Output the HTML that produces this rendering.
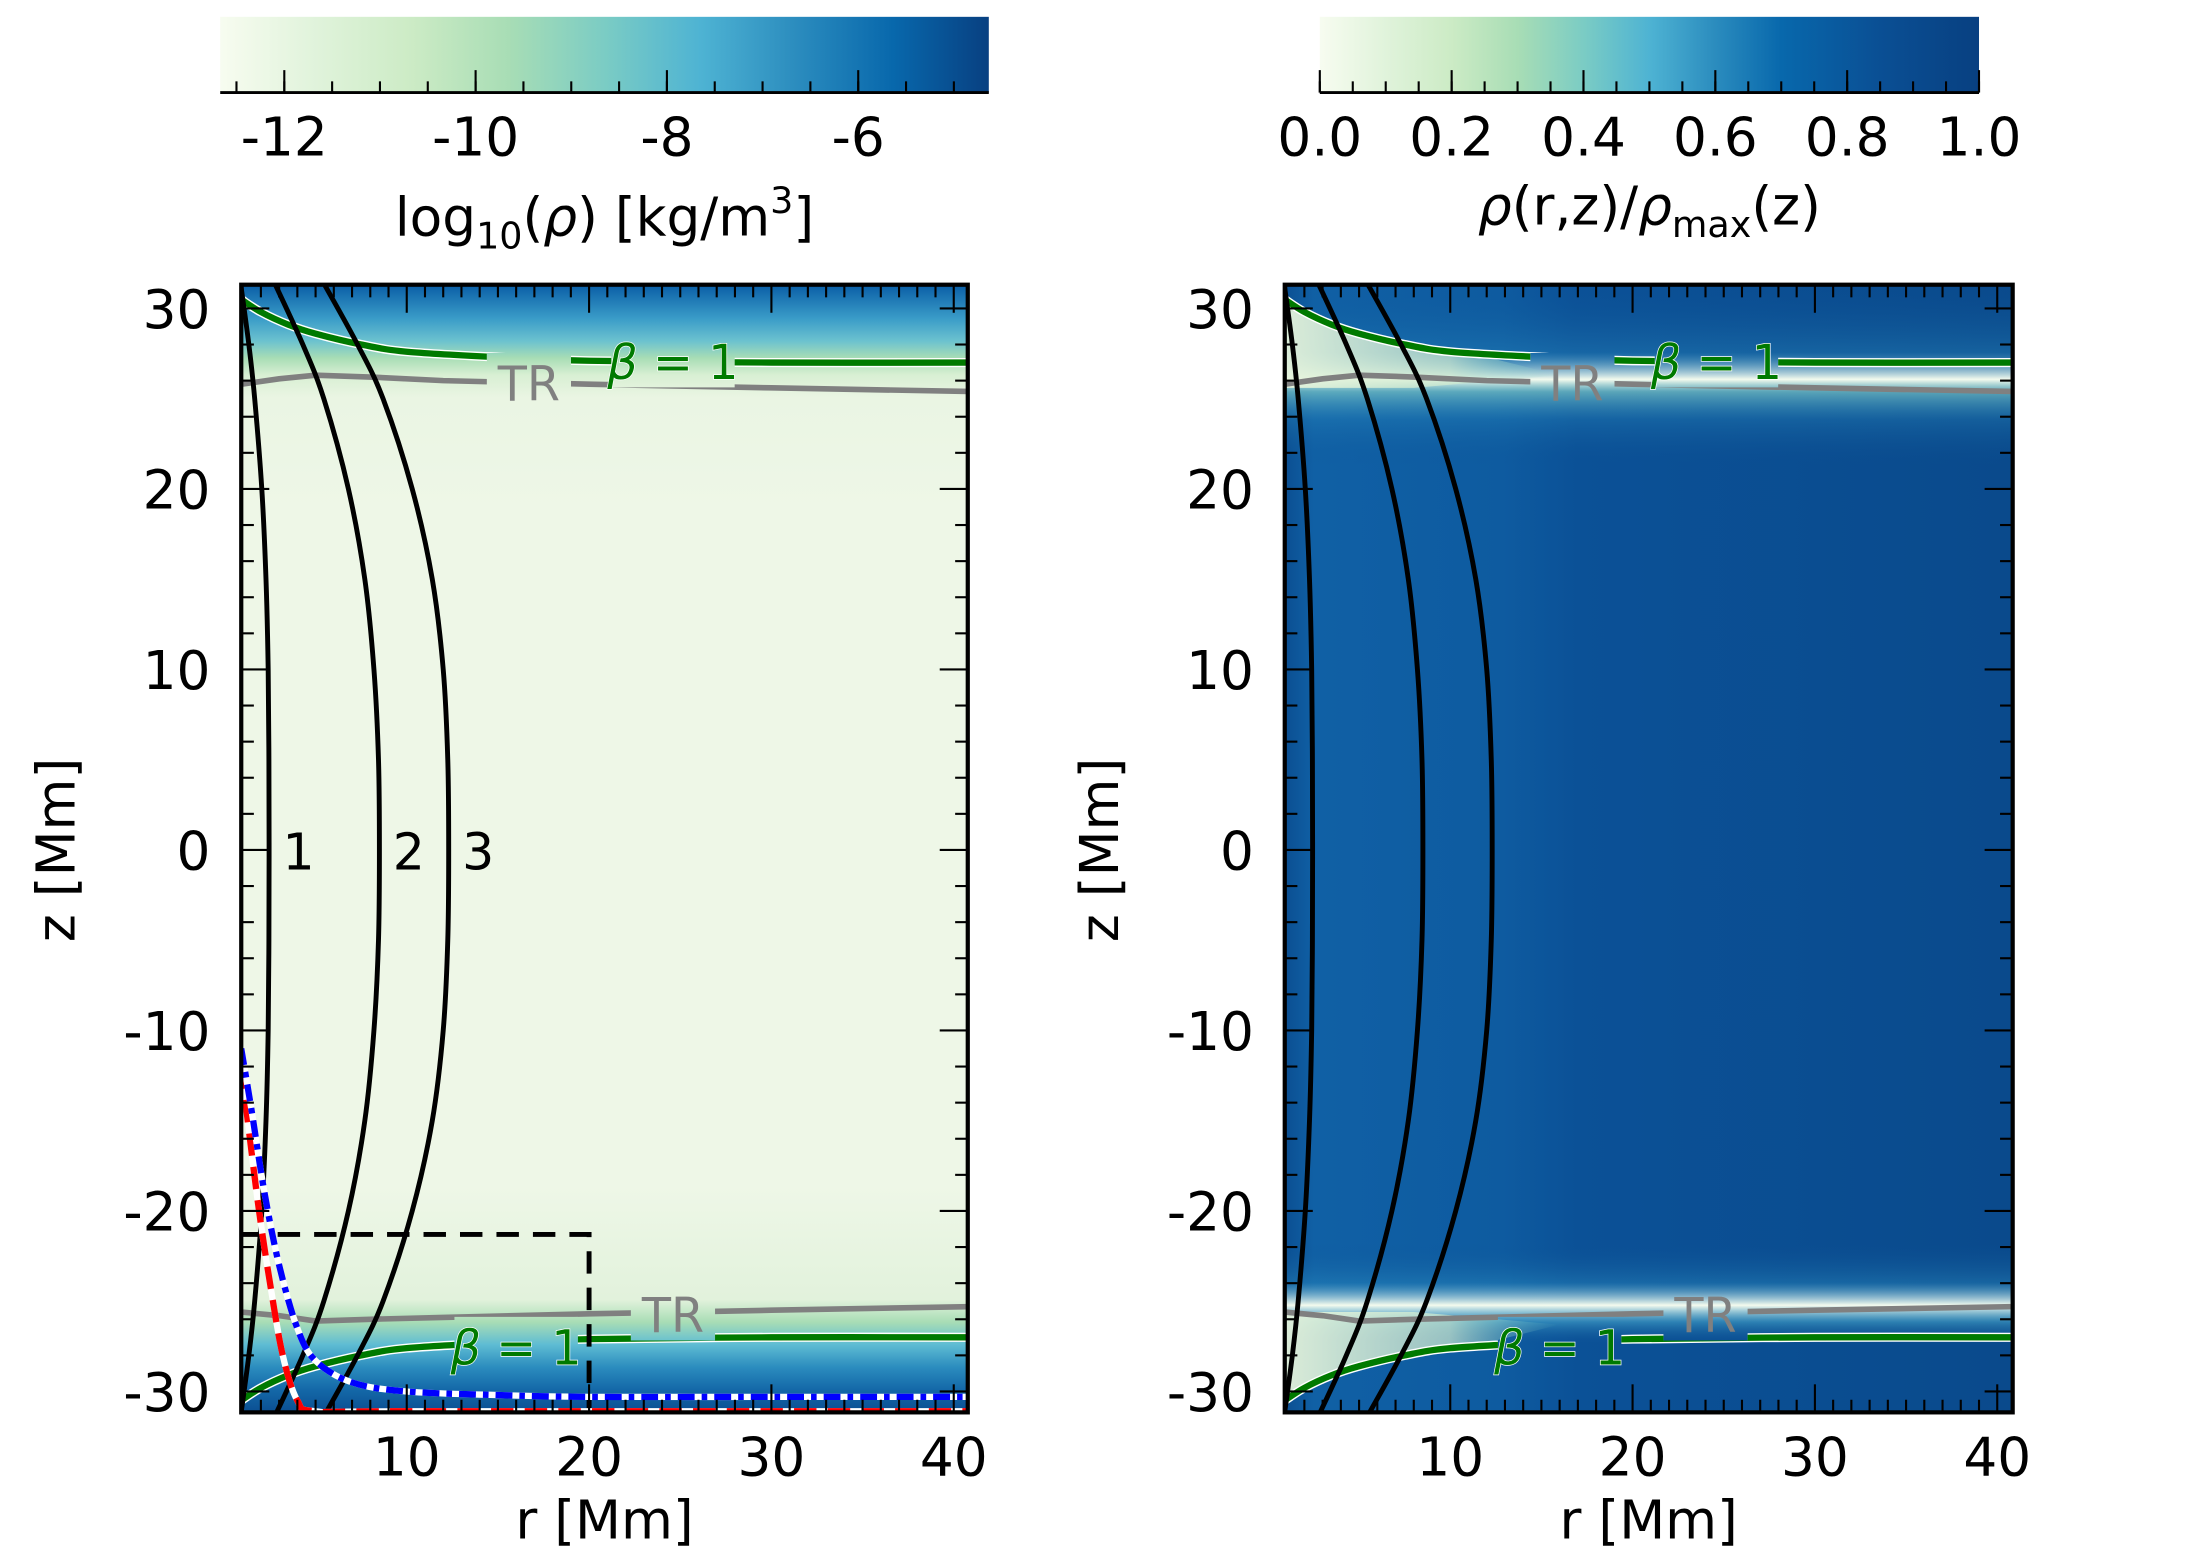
<!DOCTYPE html>
<html><head><meta charset="utf-8"><style>
html,body{margin:0;padding:0;background:#fff}
svg{display:block}
text{font-family:"DejaVu Sans","Liberation Sans",sans-serif;fill:#000}
</style></head><body>
<svg id="fig" width="2188" height="1563" viewBox="0 0 1560 1114.4" xmlns="http://www.w3.org/2000/svg">
<defs>
<linearGradient id="gnbu" x1="0" x2="1" y1="0" y2="0">
<stop offset="0" stop-color="#f7fcf0"/><stop offset="0.125" stop-color="#e0f3db"/><stop offset="0.25" stop-color="#ccebc5"/><stop offset="0.375" stop-color="#a8ddb5"/><stop offset="0.5" stop-color="#7bccc4"/><stop offset="0.625" stop-color="#4eb3d3"/><stop offset="0.75" stop-color="#2b8cbe"/><stop offset="0.875" stop-color="#0868ac"/><stop offset="1" stop-color="#084081"/>
</linearGradient>
<linearGradient id="gnbu2" x1="0" x2="1" y1="0" y2="0">
<stop offset="0" stop-color="#f7fcf0"/><stop offset="0.1" stop-color="#e0f3db"/><stop offset="0.2" stop-color="#ccebc5"/><stop offset="0.3" stop-color="#a8ddb5"/><stop offset="0.4" stop-color="#7bccc4"/><stop offset="0.5" stop-color="#4eb3d3"/><stop offset="0.6" stop-color="#2b8cbe"/><stop offset="0.7" stop-color="#0868ac"/><stop offset="0.85" stop-color="#0a4f94"/><stop offset="1" stop-color="#084081"/>
</linearGradient>
<linearGradient id="leftV" x1="0" x2="0" y1="0" y2="1">
<stop offset="0" stop-color="#0a5ea6"/><stop offset="0.03" stop-color="#3a9cc8"/><stop offset="0.05" stop-color="#6cc2cf"/><stop offset="0.065" stop-color="#a8ddb5"/><stop offset="0.08" stop-color="#d8efd3"/><stop offset="0.1" stop-color="#eaf5e3"/><stop offset="0.2" stop-color="#eef7e7"/>
<stop offset="0.8" stop-color="#eef7e7"/><stop offset="0.9" stop-color="#e2f2dc"/><stop offset="0.92" stop-color="#a8ddb5"/><stop offset="0.94" stop-color="#5ebcd3"/><stop offset="0.96" stop-color="#2b8cbe"/><stop offset="0.98" stop-color="#1468a8"/><stop offset="1" stop-color="#0b4f92"/>
</linearGradient>
<linearGradient id="rightH" x1="0" x2="1" y1="0" y2="0">
<stop offset="0" stop-color="#0b4f92"/><stop offset="0.04" stop-color="#1060a5"/><stop offset="0.3" stop-color="#0e5ba0"/><stop offset="0.4" stop-color="#0b5197"/><stop offset="1" stop-color="#0a4a8c"/>
</linearGradient>
<linearGradient id="rightV" x1="0" x2="0" y1="0" y2="1">
<stop offset="0" stop-color="#0a4f92" stop-opacity="0"/><stop offset="0.06" stop-color="#2b8cbe" stop-opacity="0.35"/><stop offset="0.084" stop-color="#f4fbee" stop-opacity="1"/><stop offset="0.095" stop-color="#7cc9c8" stop-opacity="0.7"/><stop offset="0.12" stop-color="#2b8cbe" stop-opacity="0.3"/><stop offset="0.16" stop-color="#0a4f92" stop-opacity="0"/>
<stop offset="0.85" stop-color="#0a4f92" stop-opacity="0"/><stop offset="0.885" stop-color="#2b8cbe" stop-opacity="0.4"/><stop offset="0.905" stop-color="#f4fbee" stop-opacity="1"/><stop offset="0.92" stop-color="#4eb3d3" stop-opacity="0.5"/><stop offset="0.94" stop-color="#0a4f92" stop-opacity="0"/><stop offset="1" stop-color="#0a4f92" stop-opacity="0"/>
</linearGradient>
<linearGradient id="wedgeH" x1="0" x2="1" y1="0" y2="0">
<stop offset="0" stop-color="#e6f4dc" stop-opacity="0.95"/><stop offset="0.6" stop-color="#d2ecd0" stop-opacity="0.7"/><stop offset="1" stop-color="#7bccc4" stop-opacity="0"/>
</linearGradient>
<clipPath id="clipL"><rect x="172" y="203" width="518" height="804"/></clipPath>
<clipPath id="clipR"><rect x="916" y="203" width="519" height="804"/></clipPath>
</defs>
<g id="root"></g>
</svg>
<script>
// ---- data ----
const cbLeftTicks = [-12, -10, -8, -6];
const cbRightTicks = [0.0, 0.2, 0.4, 0.6, 0.8, 1.0];
const rTicks = [10, 20, 30, 40];
const zTicks = [30, 20, 10, 0, -10, -20, -30];
const fieldZ = [31.3, 28, 25, 20, 15, 10, 5, 0, -5, -10, -15, -20, -25, -28, -31.3];
const field1R = [0.9, 1.34, 1.66, 2.05, 2.28, 2.4, 2.44, 2.45, 2.44, 2.4, 2.28, 2.05, 1.66, 1.34, 0.9];
const field2R = [2.8, 4.3, 5.45, 6.8, 7.7, 8.2, 8.45, 8.5, 8.45, 8.2, 7.7, 6.8, 5.45, 4.3, 2.8];
const field3R = [5.5, 7.3, 8.7, 10.3, 11.4, 12.0, 12.25, 12.3, 12.25, 12.0, 11.4, 10.3, 8.7, 7.3, 5.5];
const fieldLabels = ["1", "2", "3"];
const betaR = [0.92, 2, 3.5, 5, 7.5, 10, 15, 20, 30, 40.8];
const betaTopZ = [30.5, 29.8, 29.1, 28.6, 28.0, 27.6, 27.3, 27.1, 27.0, 27.0];
const betaBotZ = [-30.5, -29.8, -29.1, -28.6, -28.0, -27.6, -27.3, -27.1, -27.0, -27.0];
const trR = [0.92, 3, 5, 8, 12, 20, 30, 40.8];
const trTopZ = [25.8, 26.1, 26.3, 26.2, 26.0, 25.8, 25.6, 25.4];
const trBotZ = [-25.6, -25.8, -26.1, -26.0, -25.9, -25.7, -25.5, -25.3];
const blueR = [0.92, 1.5, 2.2, 3, 4, 5, 7, 10, 15, 20, 30, 40.8];
const blueZ = [-11, -14.5, -19, -23, -26.5, -28.3, -29.5, -30, -30.2, -30.3, -30.3, -30.3];
const redR = [0.92, 1.4, 1.9, 2.5, 3.2, 4, 5, 10, 40.8];
const redZ = [-12, -16, -20, -24, -28, -30.5, -31.1, -31.1, -31.1];
const boxR = [0.92, 20];
const boxZ = [-21.3, -31.3];

// ---- axes ----
const NS = "http://www.w3.org/2000/svg";
const root = document.getElementById("root");
const defs = document.querySelector("defs");
const zy = z => 606 - 12.87 * z;
const rxL = r => 160 + 13 * r;
const rxR = r => 904 + 13 * r;
const cbxL = v => 157 + (v + 12.67) * 68.2;
const cbxR = v => 941 + v * 470;
function el(tag, attrs, parent) {
  const e = document.createElementNS(NS, tag);
  for (const k in attrs) e.setAttribute(k, attrs[k]);
  (parent || root).appendChild(e);
  return e;
}
function txt(s, x, y, size, anchor, parent) {
  const t = el("text", {x: x, y: y, "font-size": size, "text-anchor": anchor || "middle"}, parent);
  t.textContent = s;
  return t;
}
function smoothPath(pts) {
  let d = "M" + pts[0][0] + "," + pts[0][1];
  for (let i = 0; i < pts.length - 1; i++) {
    const p0 = pts[i - 1] || pts[i], p1 = pts[i], p2 = pts[i + 1], p3 = pts[i + 2] || p2;
    const c1 = [p1[0] + (p2[0] - p0[0]) / 6, p1[1] + (p2[1] - p0[1]) / 6];
    const c2 = [p2[0] - (p3[0] - p1[0]) / 6, p2[1] - (p3[1] - p1[1]) / 6];
    d += " C" + c1[0] + "," + c1[1] + " " + c2[0] + "," + c2[1] + " " + p2[0] + "," + p2[1];
  }
  return d;
}

// ---- colorbars ----
function colorbar(x0, x1, grad, name, ticks, xf, minorStart, minorEnd, minorStep, fmt, lblName) {
  const g = el("g", {});
  
  
  el("rect", {x: x0, y: 12, width: x1 - x0, height: 54, fill: "url(#" + grad + ")"}, g);
  el("line", {x1: x0, x2: x1, y1: 66, y2: 66, stroke: "#000", "stroke-width": 2}, g);
  for (let v = minorStart; v <= minorEnd + 1e-9; v += minorStep) {
    const x = xf(v);
    if (x < x0 - 0.5 || x > x1 + 0.5) continue;
    el("line", {x1: x, x2: x, y1: 66, y2: 58, stroke: "#000", "stroke-width": 1.5}, g);
  }
  ticks.forEach(v => {
    const x = xf(v);
    el("line", {x1: x, x2: x, y1: 66, y2: 50, stroke: "#000", "stroke-width": 1.5}, g);
    const t = txt(fmt(v), x, 111, 38, "middle", g);
    
    
  });
}
colorbar(157, 705, "gnbu", "density-colorbar", cbLeftTicks, cbxL, -12.5, -4.5, 0.5, v => String(v), "colorbar-tick-label");
colorbar(941, 1411, "gnbu2", "ratio-colorbar", cbRightTicks, cbxR, 0, 1, 0.05, v => v.toFixed(1), "colorbar-tick-label");

const cl1 = el("text", {x: 431, y: 168, "font-size": 38, "text-anchor": "middle"});


cl1.innerHTML = 'log<tspan font-size="26" dy="9">10</tspan><tspan dy="-9">(</tspan><tspan font-style="italic">ρ</tspan>) [kg/m<tspan font-size="26" dy="-16">3</tspan><tspan dy="16">]</tspan>';
const cl2 = el("text", {x: 1176, y: 160, "font-size": 38, "text-anchor": "middle"});


cl2.innerHTML = '<tspan font-style="italic">ρ</tspan>(r,z)/<tspan font-style="italic">ρ</tspan><tspan font-size="26" dy="9">max</tspan><tspan dy="-9">(z)</tspan>';

// ---- panels ----
function panel(X0, X1, rx, name, clip, isLeft) {
  const g = el("g", {});
  
  
  const hm = el("g", {"clip-path": "url(#" + clip + ")"}, g);
  
  
  if (isLeft) {
    el("rect", {x: X0, y: 203, width: X1 - X0, height: 804, fill: "url(#leftV)"}, hm);
  } else {
    el("rect", {x: X0, y: 203, width: X1 - X0, height: 804, fill: "url(#rightH)"}, hm);
    el("rect", {x: X0, y: 203, width: X1 - X0, height: 804, fill: "url(#rightV)"}, hm);
    const wt = [[rx(0.92), zy(30.5)], [rx(5), zy(28.6)], [rx(12), zy(27.3)], [rx(16), zy(26.3)], [rx(8), zy(25.6)], [rx(0.92), zy(25.6)]];
    el("path", {d: "M" + wt.map(p => p.join(",")).join(" L") + "Z", fill: "url(#wedgeH)"}, hm);
    const wb = [[rx(0.92), zy(-30.5)], [rx(5), zy(-28.6)], [rx(12), zy(-27.3)], [rx(16), zy(-26.3)], [rx(8), zy(-25.6)], [rx(0.92), zy(-25.6)]];
    el("path", {d: "M" + wb.map(p => p.join(",")).join(" L") + "Z", fill: "url(#wedgeH)"}, hm);
  }
  const labs = [
    ["TR", rx(16.7), zy(25.9) + 13, "#808080", "tr-label-top", 0, 30],
    ["β = 1", rx(24.6), zy(27.1) + 13, "#007a00", "beta-label-top", 1, 44],
    ["TR", isLeft ? rx(24.6) : rx(24.0), zy(-25.7) + 13, "#808080", "tr-label-bottom", 0, 30],
    ["β = 1", rx(16.0), zy(-27.5) + 13, "#007a00", "beta-label-bottom", 1, 44]
  ];
  // clip with holes (evenodd) for label gaps
  const cid = name + "-gapclip";
  const cp = el("clipPath", {id: cid}, defs);
  let d = "M" + X0 + ",203 H" + X1 + " V1007 H" + X0 + " Z";
  labs.forEach(l => {
    const x0 = l[1] - l[6], x1 = l[1] + l[6], y0 = l[2] - 34, y1 = l[2] + 6;
    d += " M" + x0 + "," + y0 + " H" + x1 + " V" + y1 + " H" + x0 + " Z";
  });
  el("path", {d: d, "clip-rule": "evenodd"}, cp);
  const ov = el("g", {"clip-path": "url(#" + clip + ")"}, g);
  const ml = el("g", {"clip-path": "url(#" + cid + ")"}, g);
  [[trTopZ, "tr-line-top"], [trBotZ, "tr-line-bottom"]].forEach(([zs, nm]) => {
    const p = el("polyline", {points: trR.map((r, i) => rx(r) + "," + zy(zs[i])).join(" "), fill: "none", stroke: "#808080", "stroke-width": 4}, ml);
    
    
  });
  [[betaTopZ, "beta-line-top"], [betaBotZ, "beta-line-bottom"]].forEach(([zs, nm]) => {
    const pts = betaR.map((r, i) => [rx(r), zy(zs[i])]);
    el("path", {d: smoothPath(pts), fill: "none", stroke: "#fff", "stroke-width": 6.5}, ml);
    const p = el("path", {d: smoothPath(pts), fill: "none", stroke: "#007a00", "stroke-width": 4.5}, ml);
    
    
  });
  labs.forEach(([s, x, y, c, nm, isB]) => {
    const t = txt(s, x, y, 34, "middle", g);
    if (isB) {
      t.innerHTML = '<tspan font-style="italic">β</tspan> = 1';
      t.setAttribute("style", "fill:" + c + ";stroke:#fff;stroke-width:1px;paint-order:stroke");
    } else {
      t.setAttribute("style", "fill:" + c);
    }
    
    
  });
  const fl = el("g", {"clip-path": "url(#" + clip + ")"}, g);
  [field1R, field2R, field3R].forEach((rs, k) => {
    const pts = fieldZ.map((z, i) => [rx(rs[i]), zy(z)]);
    const p = el("path", {d: smoothPath(pts), fill: "none", stroke: "#000", "stroke-width": 3.5}, fl);
    
    
  });
  if (isLeft) {
    [field1R, field2R, field3R].forEach((rs, k) => {
      const x = rx(rs[7]) + 21;
      const t = txt(fieldLabels[k], x, zy(0) + 14, 36, "middle", g);
      
      
    });
    const bx = el("polyline", {points: [rx(boxR[0]) + "," + zy(boxZ[0]), rx(boxR[1]) + "," + zy(boxZ[0]), rx(boxR[1]) + "," + zy(boxZ[1])].join(" "), fill: "none", stroke: "#000", "stroke-width": 3.5, "stroke-dasharray": "16,10"}, fl);
    
    
    const rp = redR.map((r, i) => [rx(r), zy(redZ[i])]);
    el("path", {d: smoothPath(rp), fill: "none", stroke: "#fff", "stroke-width": 4.5}, fl);
    const rl = el("path", {d: smoothPath(rp), fill: "none", stroke: "#ff0000", "stroke-width": 4.5, "stroke-dasharray": "16,8"}, fl);
    
    
    const bp = blueR.map((r, i) => [rx(r), zy(blueZ[i])]);
    el("path", {d: smoothPath(bp), fill: "none", stroke: "#fff", "stroke-width": 4.5}, fl);
    const bl = el("path", {d: smoothPath(bp), fill: "none", stroke: "#0000ff", "stroke-width": 4.5, "stroke-dasharray": "12,5,4,5"}, fl);
    
    
  }
  const fr = el("rect", {x: X0, y: 203, width: X1 - X0, height: 804, fill: "none", stroke: "#000", "stroke-width": 3}, g);
  
  
  for (let r = 1; r <= 40; r++) {
    const x = rx(r), major = r % 10 === 0, L = major ? 20 : 9;
    el("line", {x1: x, x2: x, y1: 1007, y2: 1007 - L, stroke: "#000", "stroke-width": 1.5}, g);
    el("line", {x1: x, x2: x, y1: 203, y2: 203 + L, stroke: "#000", "stroke-width": 1.5}, g);
  }
  for (let z = -30; z <= 30; z += 2) {
    const y = zy(z), major = z % 10 === 0, L = major ? 20 : 9;
    el("line", {x1: X0, x2: X0 + L, y1: y, y2: y, stroke: "#000", "stroke-width": 1.5}, g);
    el("line", {x1: X1, x2: X1 - L, y1: y, y2: y, stroke: "#000", "stroke-width": 1.5}, g);
  }
  rTicks.forEach(r => {
    const t = txt(String(r), rx(r), 1052, 38, "middle", g);
    
    
  });
  zTicks.forEach(z => {
    const t = txt(String(z), X0 - 22, zy(z) + 14, 38, "end", g);
    
    
  });
  const xl = txt("r [Mm]", (X0 + X1) / 2, 1097, 38, "middle", g);
  
  
  const yl = txt("z [Mm]", 0, 0, 38, "middle", g);
  yl.setAttribute("transform", "translate(" + (X0 - 119) + ",606) rotate(-90)");
  
  
}
panel(172, 690, rxL, "density-panel", "clipL", true);
panel(916, 1435, rxR, "ratio-panel", "clipR", false);
</script>
</body></html>
